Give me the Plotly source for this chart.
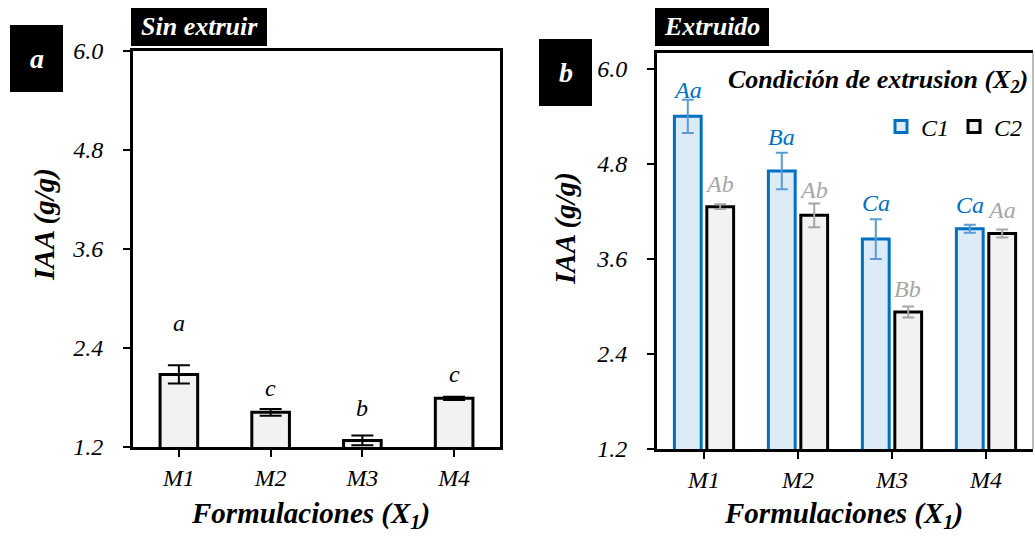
import plotly.graph_objects as go

categories = ["M1", "M2", "M3", "M4"]
y_ticks = [1.2, 2.4, 3.6, 4.8, 6.0]

# Panel a: Sin extruir
sin_mean = [2.08, 1.62, 1.28, 1.79]
sin_err = [0.11, 0.04, 0.06, 0.02]
sin_letters = ["a", "c", "b", "c"]
sin_label_y = [2.70, 1.92, 1.67, 2.09]

# Panel b: Extruido (C1, C2)
c1_mean = [5.40, 4.71, 3.85, 3.98]
c1_err = [0.21, 0.23, 0.25, 0.05]
c1_letters = ["Aa", "Ba", "Ca", "Ca"]
c1_label_y = [5.73, 5.14, 4.31, 4.28]

c2_mean = [4.26, 4.15, 2.93, 3.92]
c2_err = [0.03, 0.15, 0.07, 0.05]
c2_letters = ["Ab", "Ab", "Bb", "Aa"]
c2_label_y = [4.55, 4.47, 3.22, 4.22]

W, H = 1035, 539
FONT = "Liberation Serif"
BLUE = "#0070C0"
BLUE_ERR = "#5B9BD5"
GRAY_TXT = "#A6A6A6"


def fx(px):
    return px / W


def fy(py):
    return 1 - py / H


idx = list(range(len(categories)))

fig = go.Figure()

fig.add_trace(go.Bar(
    x=idx, y=sin_mean, width=0.41,
    marker=dict(color="#F2F2F2", line=dict(color="black", width=3)),
    error_y=dict(type="data", array=sin_err, color="black", thickness=2, width=11),
    xaxis="x", yaxis="y", showlegend=False,
))

fig.add_trace(go.Bar(
    x=idx, y=c1_mean, width=0.285, offset=-0.315, name="C1",
    marker=dict(color="#DDEBF7", line=dict(color=BLUE, width=3)),
    error_y=dict(type="data", array=c1_err, color=BLUE_ERR, thickness=2, width=6),
    xaxis="x2", yaxis="y2",
))
fig.add_trace(go.Bar(
    x=idx, y=c2_mean, width=0.285, offset=0.03, name="C2",
    marker=dict(color="#F2F2F2", line=dict(color="black", width=3)),
    error_y=dict(type="data", array=c2_err, color=GRAY_TXT, thickness=2, width=6),
    xaxis="x2", yaxis="y2",
))

tickfont = dict(family=FONT, size=24, color="black", style="italic")
common_x = dict(range=[-0.5, 3.5], tickvals=idx, ticktext=categories, ticks="outside",
                ticklen=7, tickwidth=2, tickcolor="black", showline=True, linewidth=3,
                linecolor="black", mirror=True, showgrid=False, zeroline=False,
                tickfont=tickfont, ticklabelstandoff=0, automargin=False)
common_y = dict(tickvals=y_ticks, ticktext=[f"{v:.1f}" for v in y_ticks], ticks="outside",
                ticklen=7, tickwidth=2, tickcolor="black", showline=True, linewidth=3,
                linecolor="black", showgrid=False, zeroline=False,
                tickfont=tickfont, ticklabelstandoff=15, automargin=False)

fig.update_layout(
    width=W, height=H,
    autosize=False,
    margin=dict(l=0, r=0, t=0, b=0, pad=0, autoexpand=False),
    paper_bgcolor="white", plot_bgcolor="white",
    barmode="overlay",
    xaxis=dict(domain=[fx(133), fx(500)], anchor="y", **common_x),
    yaxis=dict(domain=[fy(447), fy(51)], range=[1.2, 6.0], anchor="x", mirror=True, **common_y),
    xaxis2=dict(domain=[fx(657), fx(1033)], anchor="y2", **common_x),
    yaxis2=dict(domain=[fy(449), fy(53)], range=[1.2, 6.2], anchor="x2", mirror=False, **common_y),
    legend=dict(orientation="h", x=fx(1028), xanchor="right", y=fy(127), yanchor="middle",
                font=dict(family=FONT, size=24, style="italic", color="black"),
                bgcolor="rgba(0,0,0,0)", tracegroupgap=0, itemwidth=30),
    showlegend=True,
)

annotations = []
shapes = []


def ann(x, y, text, size, color, xref="paper", yref="paper", **kw):
    d = dict(x=x, y=y, xref=xref, yref=yref, text=text, showarrow=False,
             xanchor=kw.pop("xanchor", "center"), yanchor=kw.pop("yanchor", "middle"),
             font=dict(family=FONT, size=size, color=color), **kw)
    annotations.append(d)


# letters panel a
for i, (t, yv) in enumerate(zip(sin_letters, sin_label_y)):
    ann(i, yv, f"<i>{t}</i>", 24, "black", xref="x", yref="y")
# letters panel b
for i, (t, yv) in enumerate(zip(c1_letters, c1_label_y)):
    ann(i - 0.175, yv, f"<i>{t}</i>", 24, BLUE, xref="x2", yref="y2")
for i, (t, yv) in enumerate(zip(c2_letters, c2_label_y)):
    ann(i + 0.17, yv, f"<i>{t}</i>", 24, GRAY_TXT, xref="x2", yref="y2")

# black label boxes
boxes = [
    (131, 8, 267, 46, "Sin extruir", 26),
    (10, 25, 63, 92, "a", 28),
    (655, 8, 769, 46, "Extruido", 26),
    (539, 39, 592, 106, "b", 28),
]
for x0, y0, x1, y1, txt, sz in boxes:
    shapes.append(dict(type="rect", xref="paper", yref="paper", x0=fx(x0), x1=fx(x1),
                       y0=fy(y1), y1=fy(y0), fillcolor="black", line=dict(width=0), layer="below"))
    ann(fx((x0 + x1) / 2), fy((y0 + y1) / 2), f"<b><i>{txt}</i></b>", sz, "white")

# thin grey right border of panel b
shapes.append(dict(type="line", xref="x2 domain", yref="y2 domain", x0=1, x1=1, y0=0, y1=1,
                   line=dict(color="#A6A6A6", width=1.5), layer="above"))

# axis titles
for xc, yc in [(44, 225), (566, 229)]:
    ann(fx(xc), fy(yc), "<b><i>IAA (g/g)</i></b>", 29, "black", textangle=-90)
for xc in [310, 843]:
    ann(fx(xc), fy(515), "<b><i>Formulaciones (X<sub>1</sub>)</i></b>", 29, "black")

# legend title
ann(fx(1030), fy(81), "<b><i>Condición de extrusion (X<sub>2</sub>)</i></b>", 26, "black",
    xanchor="right")

fig.update_layout(annotations=annotations, shapes=shapes)

fig.write_html("out.html", config={"displayModeBar": False},
               post_script="document.body.style.margin='0px';document.body.style.overflow='hidden';")
